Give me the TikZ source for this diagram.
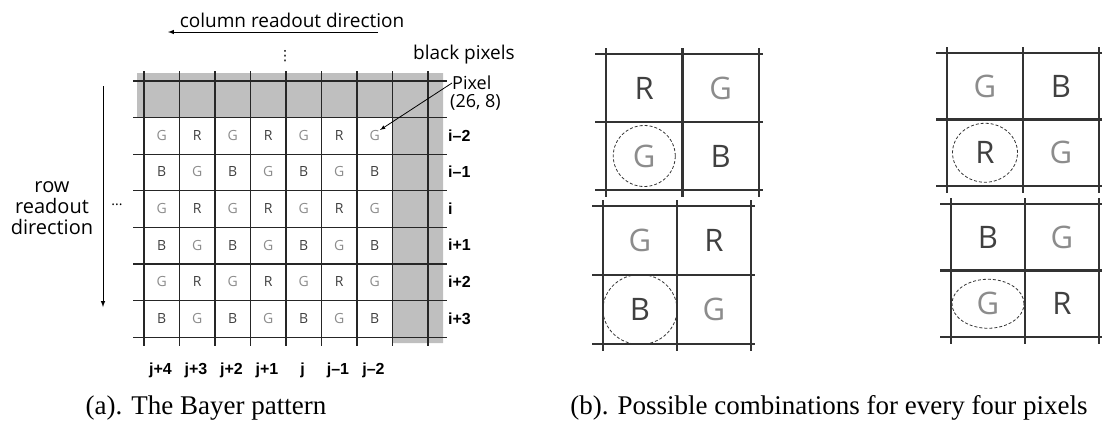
\documentclass[tikz,border=0pt]{standalone}
\usepackage{fontspec}
\setmainfont{Liberation Serif}
\setsansfont{Open Sans}
\newfontfamily\idxfont{Liberation Sans}
\newfontfamily\symfont{DejaVu Sans}
\usetikzlibrary{arrows,shapes.geometric}

\begin{document}
\begin{tikzpicture}[x=1pt,y=-1pt,>=latex,
  px/.style={inner sep=0pt,font=\sffamily\fontsize{14}{14}\selectfont},
  big/.style={inner sep=0pt,font=\sffamily\fontsize{31}{31}\selectfont},
  G/.style={text=black!45},
  R/.style={text=black!75},
  B/.style={text=black!75},
  idx/.style={inner sep=0pt,font=\idxfont\bfseries\fontsize{16}{16}\selectfont},
  lbl/.style={inner sep=0pt,font=\sffamily\fontsize{19}{21}\selectfont},
  captext/.style={inner sep=0pt,font=\fontsize{27}{27}\selectfont},
  ring/.style={draw=black!80,densely dashed,line width=0.8pt,ellipse,inner sep=0pt},
  thin grid/.style={line width=1.2pt,black!85},
  thick grid/.style={line width=2.2pt,black!80}]
  \useasboundingbox (0,0) rectangle (1102,424);

  % (a) sensor with the black pixels
  \fill[black!25] (137,73) rectangle (443,117) (392.5,73) rectangle (443,343);
  \foreach \c in {0,...,8}
    \draw[thin grid] (144+35.5*\c,71) -- (144+35.5*\c,346);
  \foreach \r in {0,...,7}
    \draw[thin grid] (133,81+36.6*\r) -- (447,81+36.6*\r);
  \foreach \row [count=\r from 0] in {{G,R,G,R,G,R,G},{B,G,B,G,B,G,B},{G,R,G,R,G,R,G},
                                      {B,G,B,G,B,G,B},{G,R,G,R,G,R,G},{B,G,B,G,B,G,B}}
    \foreach \l [count=\c from 0] in \row
      \node[px,\l] (p\r\c) at (161.75+35.5*\c,135.3+36.6*\r) {\l};
  \foreach \t [count=\r from 0] in {i–2,i–1,i,i+1,i+2,i+3}
    \node[idx,anchor=west] (r\r) at (448,135.3+36.6*\r) {\t};
  \foreach \t [count=\c from 0] in {j+4,j+3,j+2,j+1,j,j–1,j–2}
    \node[idx] (c\c) at (160.5+35.5*\c,370) {\t};

  % readout directions
  \node[lbl] (coltxt) at (292,20) {column readout direction};
  \coordinate (colR) at (378,32);
  \coordinate (colL) at (168,32);
  \draw[->,line width=1pt] (colR) -- (colL);
  \node[lbl,align=center,font=\sffamily\fontsize{20}{21}\selectfont] (rowtxt) at (52,208) {row\\readout\\direction};
  \coordinate (rowT) at (103,86);
  \coordinate (rowB) at (103,307);
  \draw[->,line width=1pt] (rowT) -- (rowB);
  \node[px] (hdots) at (117,205) {...};
  \node[font=\symfont\fontsize{14}{14}\selectfont,inner sep=0pt] (vdots) at (285,56) {⋮};

  \node[lbl,anchor=west] (blk) at (413,55) {black pixels};
  \node[lbl,anchor=west,font=\sffamily\fontsize{18}{18}\selectfont] (pxl) at (452,83) {Pixel};
  \node[lbl,anchor=west,font=\sffamily\fontsize{18}{18}\selectfont] (pxc) at (450,102) {(26, 8)};
  \draw[->,line width=0.8pt] (pxl.west) -- (p06.north east);

  % (b) the four 2x2 blocks
  \foreach \x/\y/\w/\h/\a/\b/\c/\d/\rw/\rh [count=\n] in {
      606/54/76.5/68/R/G/G/B/62/61,
      947/53/76/66.5/G/B/R/G/65/59,
      603/206/74/69/G/R/B/G/74/70,
      951/204/74/66.5/B/G/G/R/72/49} {
    \foreach \k in {0,1,2} {
      \draw[thick grid] (\x-11,\y+\k*\h) -- (\x+2*\w+4,\y+\k*\h);
      \draw[thick grid] (\x+\k*\w,\y-6) -- (\x+\k*\w,\y+2*\h+7);
    }
    \node[big,\a] (q\n a) at (\x+0.5*\w,\y+0.5*\h) {\a};
    \node[big,\b] (q\n b) at (\x+1.5*\w,\y+0.5*\h) {\b};
    \node[big,\c,ring,minimum width=\rw,minimum height=\rh] (q\n c) at (\x+0.5*\w,\y+1.5*\h) {\c};
    \node[big,\d] (q\n d) at (\x+1.5*\w,\y+1.5*\h) {\d};
  }

  \node[captext] (capA) at (206,408) {(a). The Bayer pattern};
  \node[captext] (capB) at (829,408) {(b). Possible combinations for every four pixels};
\end{tikzpicture}
\end{document}
